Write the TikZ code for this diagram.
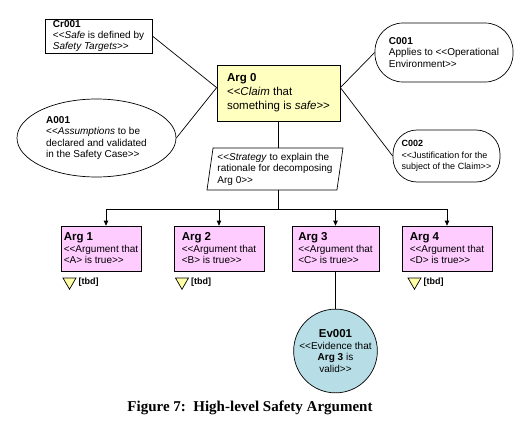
\documentclass[tikz,border=0pt]{standalone}
\usepackage{fontspec}
\setmainfont{Liberation Serif}
\setsansfont{Liberation Sans}[Ligatures=TeXOff]
\usetikzlibrary{shapes.geometric,arrows.meta,positioning}

\definecolor{claimyellow}{RGB}{255,255,192}
\definecolor{argpink}{RGB}{255,204,255}
\definecolor{evblue}{RGB}{183,222,230}
\definecolor{tbdyellow}{RGB}{255,255,165}

\newcommand{\gsnhead}[1]{{\fontsize{11.5}{13}\selectfont\bfseries #1}}

\begin{document}
\begin{tikzpicture}[x=1pt, y=-1pt, line width=0.7pt,
  every node/.style={font=\sffamily\fontsize{10}{11.5}\selectfont, inner sep=1pt},
  box/.style={draw, rectangle, align=left},
  claim/.style={box, fill=claimyellow, font=\sffamily\fontsize{11.5}{14}\selectfont},
  argbox/.style={box, fill=argpink, minimum height=45pt},
  ctx/.style={draw, rectangle, rounded corners=#1, align=left},
  assum/.style={draw, ellipse, align=left, inner sep=0pt},
  strat/.style={draw, trapezium, trapezium left angle=80, trapezium right angle=100,
    trapezium stretches body, align=left},
  evid/.style={draw, circle, fill=evblue, align=center, minimum size=78pt, inner sep=0pt},
  undev/.style={draw, fill=tbdyellow, regular polygon, regular polygon sides=3,
    shape border rotate=180, minimum size=15pt, inner sep=0pt},
  tbd/.style={font=\sffamily\bfseries\fontsize{9}{10}\selectfont, inner sep=0pt},
  link/.style={-{Triangle[length=5pt,width=4.5pt]}}
]
\useasboundingbox (0,0) rectangle (531,431);

% top claim and its context
\node[claim, minimum width=123pt, minimum height=56pt] (arg0) at (278.5,93)
  {\textbf{Arg 0}\\<<\textit{Claim} that\\something is \textit{safe}>>};
\node[box, minimum width=107pt, minimum height=34pt, inner sep=1pt,
  font=\sffamily\fontsize{10}{11}\selectfont] (cr001) at (98.5,36)
  {\textbf{Cr001}\\<<\textit{Safe} is defined by\\\textit{Safety Targets}>>};
\node[ctx=28pt, minimum width=138pt, minimum height=59pt] (c001) at (444,52.5)
  {\textbf{C001}\\Applies to <<Operational\\Environment>>};
\node[ctx=24pt, minimum width=107pt, minimum height=52pt,
  font=\sffamily\fontsize{9}{11.5}\selectfont] (c002) at (446.5,156)
  {\textbf{C002}\\<<Justification for the\\subject of the Claim>>};
\node[assum, minimum width=159pt, minimum height=78pt] (a001) at (96.5,138)
  {\textbf{A001}\\<<\textit{Assumptions} to be\\declared and validated\\in the Safety Case>>};

\draw (cr001.east) -- (arg0.175);
\draw (a001.east) -- (arg0.175);
\draw (c001.west) -- (arg0.5);
\draw (c002.west) -- (arg0.5);

% strategy
\node[strat, minimum width=136pt, minimum height=42pt] (strategy) at (275,169)
  {<<\textit{Strategy} to explain the\\rationale for decomposing\\Arg 0>>};
\draw (arg0.south) -- (arg0.south |- strategy.north);

% sub-arguments
\node[argbox, minimum width=80pt] (arg1) at (101,248.5)
  {\gsnhead{Arg 1}\\<<Argument that\\<A> is true>>};
\node[argbox, minimum width=90pt] (arg2) at (219,248.5)
  {\gsnhead{Arg 2}\\<<Argument that\\<B> is true>>};
\node[argbox, minimum width=87pt] (arg3) at (335.5,248.5)
  {\gsnhead{Arg 3}\\<<Argument that\\<C> is true>>};
\node[argbox, minimum width=90pt] (arg4) at (447,248.5)
  {\gsnhead{Arg 4}\\<<Argument that\\<D> is true>>};

% bus
\coordinate (bus) at (278.5,209);
\coordinate (t1) at (106,209);
\coordinate (t2) at (219,209);
\coordinate (t3) at (335.5,209);
\coordinate (t4) at (447,209);
\draw (strategy.south -| bus) -- (bus);
\draw (t1) -- (t4);
\draw[link] (t1) -- (t1 |- arg1.north);
\draw[link] (t2) -- (t2 |- arg2.north);
\draw[link] (t3) -- (t3 |- arg3.north);
\draw[link] (t4) -- (t4 |- arg4.north);

% undeveloped
\node[undev] (u1) at (69.5,281.75) {};
\node[undev] (u2) at (182,281.75) {};
\node[undev] (u4) at (414.5,281.75) {};
\node[tbd, right=4pt of u1] (tbd1) {[tbd]};
\node[tbd, right=4pt of u2] (tbd2) {[tbd]};
\node[tbd, right=4pt of u4] (tbd4) {[tbd]};

% evidence
\node[evid] (ev001) at (335.5,351)
  {\gsnhead{Ev001}\\<<Evidence that\\\textbf{Arg 3} is\\valid>>};
\draw (arg3.south) -- (ev001.north);

% caption
\node[font=\rmfamily\bfseries\fontsize{15}{17}\selectfont] (caption) at (250,408)
  {Figure 7:\ \ High-level Safety Argument};
\end{tikzpicture}
\end{document}
